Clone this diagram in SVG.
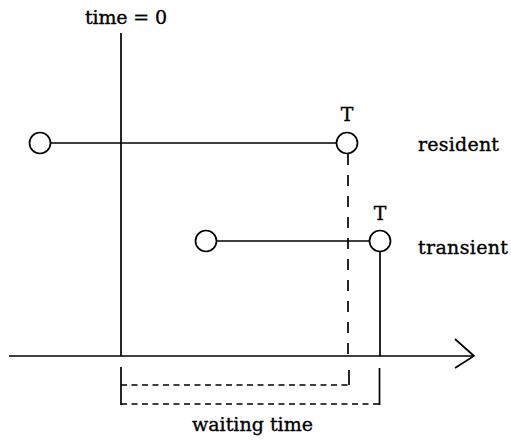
<svg xmlns="http://www.w3.org/2000/svg" width="511" height="443" viewBox="0 0 511 443">
<style>
text{font-family:"DejaVu Serif","Liberation Serif",serif;font-size:19px;fill:#000;stroke:#000;stroke-width:0.35}
.ln{stroke:#000;stroke-width:1.7;fill:none}
.dl{stroke:#000;stroke-width:1.7;fill:none;stroke-dasharray:11 10}
.db{stroke:#000;stroke-width:1.5;fill:none;stroke-dasharray:6 4.5}
.nd{fill:#fff;stroke:#000;stroke-width:1.7}
</style>
<rect width="511" height="443" fill="#fff"/>
<g id="connectors">
<line class="ln" x1="121" y1="33" x2="121" y2="356"/>
<line class="ln" x1="9" y1="356" x2="474" y2="356"/>
<polyline class="ln" points="455,339 474,356 455,368"/>
<line class="ln" x1="50.5" y1="143" x2="336.5" y2="143"/>
<line class="dl" x1="348" y1="154" x2="348" y2="356"/>
<line class="ln" x1="216.5" y1="241" x2="369.5" y2="241"/>
<line class="ln" x1="380" y1="251.5" x2="380" y2="356"/>
<line class="ln" x1="121" y1="367" x2="121" y2="405"/>
<line class="db" x1="121" y1="385" x2="348" y2="385"/>
<line class="ln" x1="349" y1="370" x2="349" y2="385"/>
<line class="db" x1="121" y1="404" x2="379" y2="404"/>
<line class="ln" x1="379.5" y1="368" x2="379.5" y2="405"/>
</g>
<g id="time0"><text x="85" y="24" textLength="82" lengthAdjust="spacing">time = 0</text></g>
<g id="resident-start"><circle class="nd" cx="40" cy="143" r="10.5"/></g>
<g id="resident-end"><circle class="nd" cx="347" cy="143" r="10.5"/><text x="347" y="121" text-anchor="middle">T</text></g>
<g id="resident-label"><text x="418" y="151" textLength="81" lengthAdjust="spacing">resident</text></g>
<g id="transient-start"><circle class="nd" cx="206" cy="241" r="10.5"/></g>
<g id="transient-end"><circle class="nd" cx="380" cy="241" r="10.5"/><text x="380" y="220" text-anchor="middle">T</text></g>
<g id="transient-label"><text x="418" y="254" textLength="90" lengthAdjust="spacing">transient</text></g>
<g id="waiting-label"><text x="192" y="431" textLength="121" lengthAdjust="spacing">waiting time</text></g>
</svg>
